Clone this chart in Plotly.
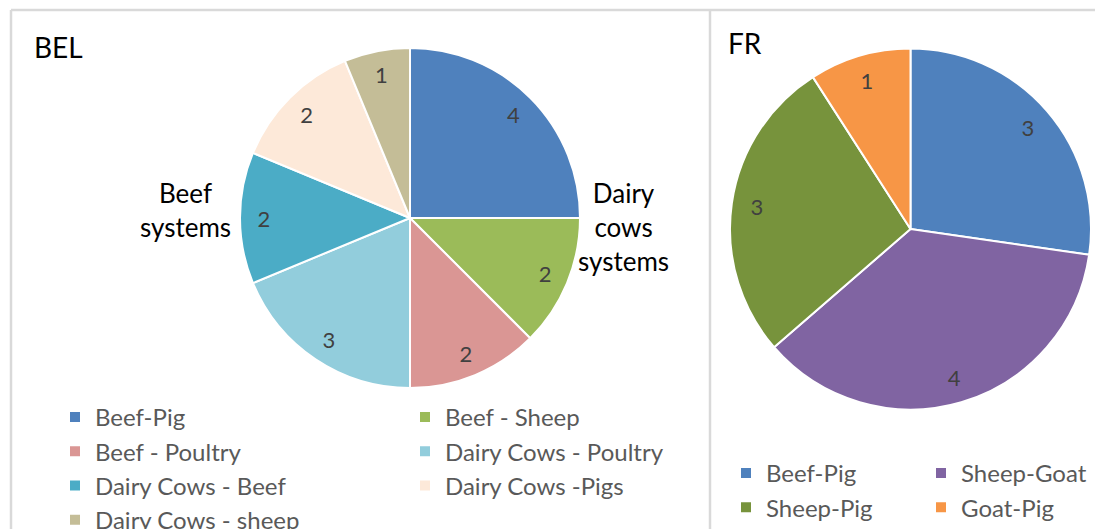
import plotly.graph_objects as go

# ---- data ----
bel_labels = ["Beef-Pig", "Beef - Sheep", "Beef - Poultry", "Dairy Cows - Poultry",
              "Dairy Cows - Beef", "Dairy Cows -Pigs", "Dairy Cows - sheep"]
bel_values = [4, 2, 2, 3, 2, 2, 1]
bel_colors = ["#4F81BD", "#9BBB59", "#DA9694", "#92CDDC", "#4BACC6", "#FDE9D9", "#C4BD97"]

fr_labels = ["Beef-Pig", "Sheep-Goat", "Sheep-Pig", "Goat-Pig"]
fr_values = [3, 4, 3, 1]
fr_colors = ["#4F81BD", "#8064A2", "#77933C", "#F79646"]

W, H = 1095, 529
ML = 55
PW = W - ML

def px(x):
    return (x - ML) / PW

def py(y):
    return 1 - y / H

FONT = "Lato"

fig = go.Figure()

def add_pie(labels, values, colors, dom_x, dom_y, legend, group):
    fig.add_trace(go.Pie(
        labels=labels, values=values, sort=False, direction="clockwise",
        marker=dict(colors=colors, line=dict(color="white", width=2)),
        textinfo="none", domain=dict(x=dom_x, y=dom_y), legend=legend, legendgroup=group,
        hoverinfo="label+value",
    ))
    # text layer (value labels placed near the rim)
    fig.add_trace(go.Pie(
        labels=labels, values=values, sort=False, direction="clockwise",
        hole=0.72, marker=dict(colors=["rgba(0,0,0,0)"] * len(values), line=dict(width=0)),
        textinfo="value", textposition="inside", insidetextorientation="horizontal",
        textfont=dict(family=FONT, size=22, color="#404040"),
        domain=dict(x=dom_x, y=dom_y), showlegend=False, hoverinfo="skip", legendgroup=group,
    ))

add_pie(bel_labels, bel_values, bel_colors, [px(240), px(580)], [py(389), py(47)], "legend", "bel")
add_pie(fr_labels, fr_values, fr_colors, [px(730), px(1091)], [py(410), py(48)], "legend2", "fr")

line_col = "#D9D9D9"
shapes = [
    dict(type="line", xref="paper", yref="paper", x0=px(11), x1=px(W + 5), y0=py(10), y1=py(10),
         line=dict(color=line_col, width=2.5)),
    dict(type="line", xref="paper", yref="paper", x0=px(11), x1=px(11), y0=py(10), y1=py(H + 5),
         line=dict(color=line_col, width=2.5)),
    dict(type="line", xref="paper", yref="paper", x0=px(710), x1=px(710), y0=py(10), y1=py(H + 5),
         line=dict(color=line_col, width=2.5)),
]

annotations = [
    dict(text="BEL", x=px(32), y=py(47), xref="paper", yref="paper", xanchor="left", yanchor="middle",
         showarrow=False, font=dict(family=FONT, size=28, color="#000000")),
    dict(text="FR", x=px(726), y=py(43), xref="paper", yref="paper", xanchor="left", yanchor="middle",
         showarrow=False, font=dict(family=FONT, size=28, color="#000000")),
    dict(text="Beef<br>systems", x=px(185), y=py(210), xref="paper", yref="paper", xanchor="center",
         yanchor="middle", align="center", showarrow=False,
         font=dict(family=FONT, size=26, color="#000000")),
    dict(text="Dairy<br>cows<br>systems", x=px(623), y=py(227), xref="paper", yref="paper",
         xanchor="center", yanchor="middle", align="center", showarrow=False,
         font=dict(family=FONT, size=26, color="#000000")),
]

fig.update_layout(
    width=W, height=H,
    margin=dict(l=ML, r=0, t=0, b=0, autoexpand=False),
    paper_bgcolor="white", plot_bgcolor="white",
    font=dict(family=FONT, color="#595959"),
    shapes=shapes, annotations=annotations,
    legend=dict(orientation="h", x=0, xanchor="left", y=py(395), yanchor="top",
                entrywidth=305, entrywidthmode="pixels", traceorder="normal",
                font=dict(family=FONT, size=24, color="#595959"), bgcolor="rgba(0,0,0,0)"),
    legend2=dict(orientation="h", x=px(1116), xanchor="right", y=py(451), yanchor="top",
                 entrywidth=150, entrywidthmode="pixels", traceorder="normal",
                 font=dict(family=FONT, size=24, color="#595959"), bgcolor="rgba(0,0,0,0)"),
)

fig.write_html("out.html", config={"displayModeBar": False},
               post_script="document.body.style.margin='0';document.body.style.overflow='hidden';")
